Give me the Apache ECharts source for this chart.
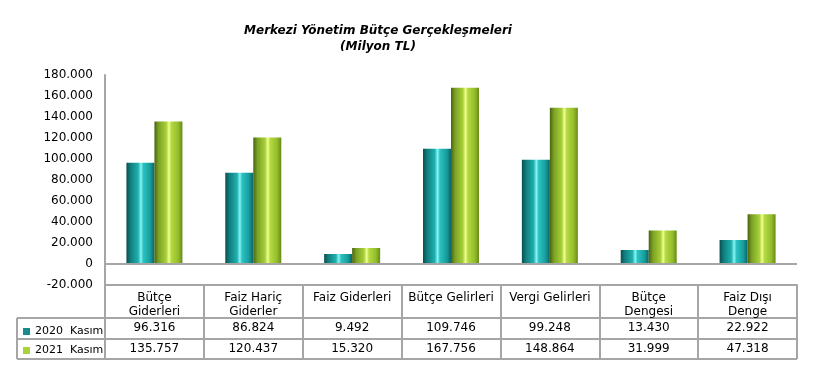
<!DOCTYPE html>
<html>
<head>
<meta charset="utf-8">
<script src="https://cdn.jsdelivr.net/npm/echarts@6/dist/echarts.min.js"></script>
<style>html,body{margin:0;padding:0;background:#fff}#c{width:815px;height:370px}</style>
</head>
<body>
<div id="c"></div>
<script>
const categories = ['Bütçe\nGiderleri', 'Faiz Hariç\nGiderler', 'Faiz Giderleri', 'Bütçe Gelirleri', 'Vergi Gelirleri', 'Bütçe\nDengesi', 'Faiz Dışı\nDenge'];
const seriesNames = ['2020  Kasım', '2021  Kasım'];
const values2020 = [96316, 86824, 9492, 109746, 99248, 13430, 22922];
const values2021 = [135757, 120437, 15320, 167756, 148864, 31999, 47318];
const yMin = -20000, yMax = 180000, yInterval = 20000;

function fmt(v) {
  const s = Math.abs(v).toString().replace(/\B(?=(\d{3})+(?!\d))/g, '.');
  return (v < 0 ? '-' : '') + s;
}

const FONT = 'DejaVu Sans';
const GL = 105, GR = 18, GT = 75, GB = 85;
const tableBottom = 359, rowTop1 = 318, rowTop2 = 339, tableLeft = 17;
const lineColor = '#a6a6a6';

const tealGrad = new echarts.graphic.LinearGradient(0, 0, 1, 0, [
  {offset: 0, color: '#0a4f4f'}, {offset: 0.15, color: '#127e7e'}, {offset: 0.42, color: '#1fb0b0'},
  {offset: 0.52, color: '#8af4f4'}, {offset: 0.6, color: '#2bc2c2'}, {offset: 0.85, color: '#179c9c'}, {offset: 1, color: '#0c6363'}
]);
const greenGrad = new echarts.graphic.LinearGradient(0, 0, 1, 0, [
  {offset: 0, color: '#4a640f'}, {offset: 0.15, color: '#7ca226'}, {offset: 0.42, color: '#a6cf38'},
  {offset: 0.52, color: '#efff92'}, {offset: 0.6, color: '#b5da42'}, {offset: 0.85, color: '#94bd2c'}, {offset: 1, color: '#678a17'}
]);

const chart = echarts.init(document.getElementById('c'), null, {renderer: 'canvas'});
const option = {
  animation: false,
  backgroundColor: '#fff',
  textStyle: {fontFamily: FONT, color: '#000'},
  title: {
    text: 'Merkezi Yönetim Bütçe Gerçekleşmeleri\n(Milyon TL)',
    left: 373, top: 18, textAlign: 'center',
    textStyle: {fontFamily: FONT, fontStyle: 'italic', fontWeight: 'bold', fontSize: 12, lineHeight: 16, color: '#000'}
  },
  legend: {
    orient: 'vertical', left: tableLeft + 1, top: rowTop1 + 3,
    itemWidth: 7, itemHeight: 7, itemGap: 8, icon: 'rect',
    textStyle: {fontFamily: FONT, fontSize: 11, color: '#000'},
    data: [
      {name: seriesNames[0], itemStyle: {color: '#178c8c'}},
      {name: seriesNames[1], itemStyle: {color: '#a8d33a'}}
    ],
    selectedMode: false
  },
  grid: {left: GL, right: GR, top: GT, bottom: GB, containLabel: false},
  xAxis: [
    {
      type: 'category', data: categories, position: 'bottom',
      axisLine: {onZero: false, lineStyle: {color: lineColor, width: 2}},
      axisTick: {show: true, interval: 0, length: tableBottom - (370 - GB), lineStyle: {color: lineColor, width: 2}},
      axisLabel: {interval: 0, margin: 6, fontFamily: FONT, fontSize: 12, color: '#000', lineHeight: 14, verticalAlign: 'top'}
    },
    {
      type: 'category', data: values2020.map(fmt), position: 'bottom', offset: 0,
      axisLine: {show: false}, axisTick: {show: false},
      axisLabel: {interval: 0, margin: rowTop1 - (370 - GB) + 4, fontFamily: FONT, fontSize: 12, color: '#000', verticalAlign: 'top'}
    },
    {
      type: 'category', data: values2021.map(fmt), position: 'bottom', offset: 0,
      axisLine: {show: false}, axisTick: {show: false},
      axisLabel: {interval: 0, margin: rowTop2 - (370 - GB) + 4, fontFamily: FONT, fontSize: 12, color: '#000', verticalAlign: 'top'}
    }
  ],
  yAxis: {
    type: 'value', min: yMin, max: yMax, interval: yInterval,
    axisLine: {show: true, lineStyle: {color: lineColor, width: 2}},
    axisTick: {show: false},
    splitLine: {show: false},
    axisLabel: {formatter: fmt, margin: 12, fontFamily: FONT, fontSize: 12, color: '#000'}
  },
  series: [
    {
      name: seriesNames[0], type: 'bar', data: values2020, xAxisIndex: 0,
      barWidth: 28, barGap: '0%',
      itemStyle: {color: tealGrad},
      markLine: {
        silent: true, symbol: 'none', label: {show: false},
        lineStyle: {color: lineColor, width: 2, type: 'solid'},
        data: [{yAxis: 0}]
      }
    },
    {
      name: seriesNames[1], type: 'bar', data: values2021, xAxisIndex: 0,
      barWidth: 28, barGap: '0%',
      itemStyle: {color: greenGrad}
    }
  ]
};
chart.setOption(option);

const rightX = 815 - GR;
const ls = {stroke: lineColor, lineWidth: 2};
chart.setOption({
  graphic: [
    {type: 'line', shape: {x1: tableLeft, y1: rowTop1, x2: rightX, y2: rowTop1}, style: ls, silent: true},
    {type: 'line', shape: {x1: tableLeft, y1: rowTop2, x2: rightX, y2: rowTop2}, style: ls, silent: true},
    {type: 'line', shape: {x1: tableLeft, y1: tableBottom, x2: rightX, y2: tableBottom}, style: ls, silent: true},
    {type: 'line', shape: {x1: tableLeft, y1: rowTop1, x2: tableLeft, y2: tableBottom}, style: ls, silent: true}
  ]
});
</script>
</body>
</html>
